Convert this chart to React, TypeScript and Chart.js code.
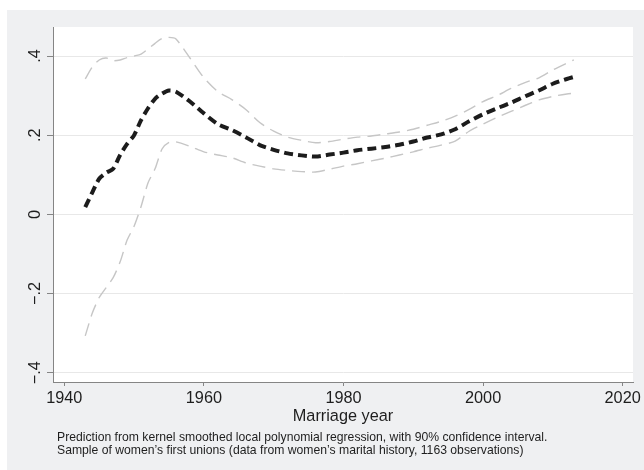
import React, { useEffect, useRef } from "react";
import { Chart, registerables } from "chart.js";

Chart.register(...registerables);

// Marriage year (x) of each sampled point
const years = [
  1943, 1944, 1945, 1946, 1947, 1948, 1949, 1950, 1951, 1952, 1953, 1954, 1955, 1956,
  1958, 1960, 1962, 1964, 1966, 1968, 1970, 1972, 1974, 1976, 1978, 1980, 1982, 1984,
  1986, 1988, 1990, 1992, 1994, 1996, 1998, 2000, 2002, 2004, 2006, 2008, 2010, 2012, 2013,
];

// Local polynomial prediction
const fitValues = [
  0.018, 0.055, 0.09, 0.105, 0.115, 0.15, 0.178, 0.2, 0.238, 0.268, 0.292, 0.305, 0.313, 0.31,
  0.285, 0.255, 0.228, 0.213, 0.195, 0.175, 0.163, 0.154, 0.149, 0.146, 0.151, 0.156, 0.162, 0.166,
  0.17, 0.176, 0.184, 0.194, 0.202, 0.215, 0.235, 0.253, 0.268, 0.282, 0.298, 0.313, 0.33, 0.342, 0.347,
];

// Upper bound of 90% CI
const upperCI = [
  0.342, 0.372, 0.39, 0.395, 0.388, 0.39, 0.396, 0.4, 0.405, 0.418, 0.432, 0.444, 0.447, 0.443,
  0.395, 0.345, 0.31, 0.29, 0.265, 0.232, 0.21, 0.195, 0.187, 0.181, 0.184, 0.19, 0.195, 0.198,
  0.203, 0.208, 0.215, 0.225, 0.235, 0.248, 0.265, 0.285, 0.3, 0.318, 0.333, 0.345, 0.365, 0.382, 0.39,
];

// Lower bound of 90% CI
const lowerCI = [
  -0.307, -0.25, -0.21, -0.185, -0.16, -0.12, -0.065, -0.03, 0.02, 0.08, 0.115, 0.165, 0.182, 0.183,
  0.172, 0.158, 0.15, 0.143, 0.13, 0.122, 0.115, 0.111, 0.108, 0.107, 0.114, 0.122, 0.128, 0.135,
  0.142, 0.15, 0.158, 0.167, 0.175, 0.185, 0.21, 0.228, 0.245, 0.26, 0.275, 0.289, 0.298, 0.304, 0.306,
];

const xTicks = [1940, 1960, 1980, 2000, 2020];
const yTicks = [-0.4, -0.2, 0, 0.2, 0.4];
const xTitle = "Marriage year";
const noteLines = [
  "Prediction from kernel smoothed local polynomial regression, with 90% confidence interval.",
  "Sample of women\u2019s first unions (data from women\u2019s marital history, 1163 observations)",
];

const FONT = "'Liberation Sans', Arial, Helvetica, sans-serif";

function fmtY(v: number): string {
  const r = Math.round(v * 10) / 10;
  if (r === 0) return "0";
  const s = Math.abs(r).toString().replace(/^0/, "");
  return r < 0 ? "\u2212" + s : s;
}

export default function App() {
  const ref = useRef<HTMLCanvasElement | null>(null);

  useEffect(() => {
    const canvas = ref.current;
    if (!canvas) return;

    const toPts = (vals: number[]) => years.map((x, i) => ({ x, y: vals[i] }));

    const bgPlugin = {
      id: "stataBg",
      beforeDraw(chart: any) {
        const { ctx, chartArea } = chart;
        ctx.save();
        ctx.fillStyle = "#ffffff";
        ctx.fillRect(0, 0, chart.width, chart.height);
        ctx.fillStyle = "#eff0f2";
        ctx.fillRect(7, 10, chart.width - 7, chart.height - 10);
        ctx.fillStyle = "#ffffff";
        ctx.fillRect(
          chartArea.left,
          chartArea.top,
          chartArea.right - chartArea.left,
          chartArea.bottom - chartArea.top
        );
        ctx.restore();
      },
      afterDraw(chart: any) {
        const { ctx, chartArea } = chart;
        ctx.save();
        ctx.fillStyle = "#1e1e1e";
        ctx.textBaseline = "middle";
        ctx.textAlign = "center";
        ctx.font = `16.3px ${FONT}`;
        ctx.fillText(xTitle, (chartArea.left + chartArea.right) / 2, 417);
        ctx.textAlign = "left";
        ctx.font = `12.2px ${FONT}`;
        ctx.fillText(noteLines[0], 57, 438);
        ctx.fillText(noteLines[1], 57, 451);
        ctx.restore();
      },
    };

    const chart = new Chart(canvas, {
      type: "line",
      data: {
        datasets: [
          {
            label: "Upper CI",
            data: toPts(upperCI),
            borderColor: "#c6c6c6",
            borderWidth: 1.4,
            borderDash: [13, 7],
            pointRadius: 0,
            tension: 0.25,
            fill: false,
          },
          {
            label: "Lower CI",
            data: toPts(lowerCI),
            borderColor: "#c6c6c6",
            borderWidth: 1.4,
            borderDash: [13, 7],
            pointRadius: 0,
            tension: 0.25,
            fill: false,
          },
          {
            label: "Prediction",
            data: toPts(fitValues),
            borderColor: "#1c1c1c",
            borderWidth: 4,
            borderDash: [9, 5],
            borderCapStyle: "butt",
            pointRadius: 0,
            tension: 0.25,
            fill: false,
          },
        ],
      },
      options: {
        animation: false,
        responsive: false,
        maintainAspectRatio: false,
        layout: { padding: { left: 0, top: 27, right: 11, bottom: 0 } },
        plugins: {
          legend: { display: false },
          tooltip: { enabled: false },
          title: { display: false },
        },
        scales: {
          x: {
            type: "linear",
            position: "bottom",
            min: 1938.38,
            max: 2021.48,
            afterBuildTicks: (s: any) => {
              s.ticks = xTicks.map((v) => ({ value: v }));
            },
            afterFit: (s: any) => {
              s.height = 88;
              s.paddingLeft = 0;
              s.paddingRight = 0;
            },
            ticks: {
              color: "#1e1e1e",
              font: { family: FONT, size: 16.3 },
              padding: 3,
              maxRotation: 0,
              minRotation: 0,
              callback: (v: any) => String(v),
            },
            grid: {
              display: true,
              drawOnChartArea: false,
              drawTicks: true,
              tickLength: 4,
              tickColor: "#858585",
              color: "#858585",
              lineWidth: 1,
            },
            border: { display: true, color: "#858585", width: 1 },
          },
          y: {
            type: "linear",
            position: "left",
            min: -0.4235,
            max: 0.4733,
            afterBuildTicks: (s: any) => {
              s.ticks = yTicks.map((v) => ({ value: v }));
            },
            afterFit: (s: any) => {
              s.width = 53;
              s.paddingTop = 0;
              s.paddingBottom = 0;
            },
            ticks: {
              color: "#1e1e1e",
              font: { family: FONT, size: 16.3 },
              padding: 0,
              minRotation: 90,
              maxRotation: 90,
              crossAlign: "center",
              callback: (v: any) => fmtY(Number(v)),
            },
            grid: {
              display: true,
              drawOnChartArea: true,
              drawTicks: true,
              tickLength: 6,
              color: "#e8e8e8",
              tickColor: "#858585",
              lineWidth: 1,
            },
            border: { display: true, color: "#858585", width: 1 },
          },
        },
      },
      plugins: [bgPlugin],
    } as any);

    return () => {
      chart.destroy();
    };
  }, []);

  return (
    <div style={{ position: "fixed", left: 0, top: 0, width: 644, height: 470 }}>
      <canvas ref={ref} width={644} height={470} style={{ display: "block" }} />
    </div>
  );
}
